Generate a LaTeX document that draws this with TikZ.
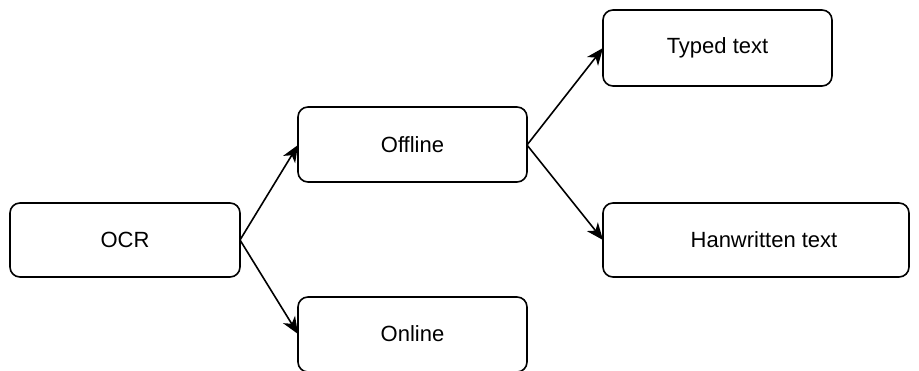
\documentclass[tikz,border=0pt]{standalone}
\usepackage{fontspec}
\setmainfont{Liberation Sans}
\usetikzlibrary{arrows.meta}
\begin{document}
\begin{tikzpicture}[x=1pt,y=-1pt,
  box/.style={draw=black,line width=1.6pt,rounded corners=10pt,fill=white},
  lbl/.style={font=\fontsize{22}{26}\selectfont},
  conn/.style={line width=1.6pt,-{Stealth[length=17pt,width=14pt,inset=5pt]}}]
\useasboundingbox (0,0) rectangle (919,371);
\path[box] (10,203) rectangle (240,277);
\node[lbl] (ocr) at (125,240) {OCR};
\coordinate (ocrR) at (240,240);
\path[box] (298,107) rectangle (527,182);
\node[lbl] (off) at (412.5,145) {Offline};
\coordinate (offL) at (298,145);
\coordinate (offR) at (527,145);
\path[box] (298,297) rectangle (527,372);
\node[lbl] (on) at (412.5,334) {Online};
\coordinate (onL) at (298,334);
\path[box] (603,10) rectangle (832,86);
\node[lbl] (typ) at (717.5,48) {Typed text};
\coordinate (typL) at (603,48);
\path[box] (603,203) rectangle (909,277);
\node[lbl] (hw) at (764,240) {Hanwritten text};
\coordinate (hwL) at (603,240);
\draw[conn] (ocrR) -- (offL);
\draw[conn] (ocrR) -- (onL);
\draw[conn] (offR) -- (typL);
\draw[conn] (offR) -- (hwL);
\end{tikzpicture}
\end{document}
